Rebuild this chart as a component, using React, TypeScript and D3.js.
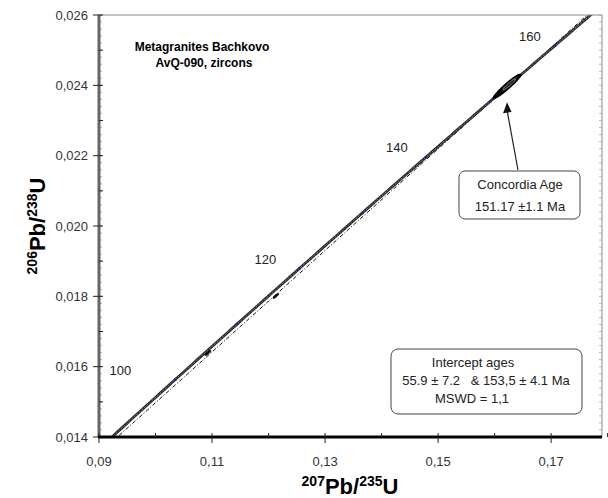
import React, { useEffect, useRef } from 'react';
import * as d3 from 'd3';

// decay constants (1/yr)
const LAMBDA_238 = 1.55125e-10;
const LAMBDA_235 = 9.8485e-10;

// ages (Ma) marked on the concordia, and those that get a label
const ageMarks = [100, 110, 120, 130, 140, 150, 160];
const ageLabels = [100, 120, 140, 160];
const interceptAges = [55.9, 153.5];
const concordiaAge = 151.17;

// zircon analyses: 207Pb/235U, 206Pb/238U, 2s errors, correlation
const ellX = [0.10929, 0.1213, 0.162, 0.1626, 0.1622];
const ellY = [0.01639, 0.01801, 0.02395, 0.02403, 0.02397];
const ellSX = [0.0005, 0.0005, 0.0013, 0.0018, 0.0024];
const ellSY = [0.00007, 0.00007, 0.00019, 0.00026, 0.00034];
const ellRho = [0.85, 0.85, 0.9, 0.95, 0.96];

const xTicks = [0.09, 0.11, 0.13, 0.15, 0.17];
const yTicks = [0.014, 0.016, 0.018, 0.02, 0.022, 0.024, 0.026];

const W = 608;
const H = 498;
const plot = { left: 99, right: 602, top: 15, bottom: 437 };
const FONT = '"Liberation Sans", Arial, sans-serif';
// label nudges (px) left of each labelled age mark
const labelShift: Record<number, number> = { 100: -55, 120: -34, 140: -29, 160: -25 };

const concordia = (ma: number): [number, number] => [
  Math.exp(LAMBDA_235 * ma * 1e6) - 1,
  Math.exp(LAMBDA_238 * ma * 1e6) - 1,
];

const ellipsePts = (cx: number, cy: number, sx: number, sy: number, rho: number) =>
  d3.range(0, 361, 6).map(a => {
    const t = (a * Math.PI) / 180;
    const u = Math.cos(t);
    const v = Math.sin(t);
    return [cx + sx * u, cy + sy * (rho * u + Math.sqrt(1 - rho * rho) * v)] as [number, number];
  });

export default function App() {
  const ref = useRef<SVGSVGElement>(null);

  useEffect(() => {
    const svg = d3.select(ref.current);
    svg.selectAll('*').remove();

    const x = d3.scaleLinear().domain([0.09, 0.179]).range([plot.left, plot.right]);
    const y = d3.scaleLinear().domain([0.014, 0.026]).range([plot.bottom, plot.top]);
    const comma = (f: string) => (d: number) => d3.format(f)(d).replace('.', ',');

    svg.append('rect').attr('width', W).attr('height', H).attr('fill', '#fff');

    svg.append('clipPath').attr('id', 'plotclip')
      .append('rect')
      .attr('x', plot.left).attr('y', plot.top)
      .attr('width', plot.right - plot.left).attr('height', plot.bottom - plot.top);

    const g = svg.append('g').attr('clip-path', 'url(#plotclip)');
    const line = d3.line<[number, number]>().x(d => x(d[0])).y(d => y(d[1]));

    // discordia through the two intercepts
    const lo = concordia(interceptAges[0]);
    const hi = concordia(interceptAges[1]);
    const slope = (hi[1] - lo[1]) / (hi[0] - lo[0]);
    const discY = (xv: number) => lo[1] + slope * (xv - lo[0]);
    g.append('path')
      .attr('d', line([[0.09, discY(0.09)], [0.179, discY(0.179)]]))
      .attr('fill', 'none')
      .attr('stroke', '#111')
      .attr('stroke-width', 1)
      .attr('stroke-dasharray', '4,2,1,2');

    // concordia curve
    const curve = d3.range(80, 180, 0.5).map(concordia);
    g.append('path')
      .attr('d', line(curve))
      .attr('fill', 'none')
      .attr('stroke', '#2a2a2a')
      .attr('stroke-width', 2.8);
    g.append('path')
      .attr('d', line(curve))
      .attr('fill', 'none')
      .attr('stroke', '#9a9a9a')
      .attr('stroke-width', 0.8)
      .attr('stroke-dasharray', '2,1.5');

    // age marks
    g.selectAll('.mark')
      .data(ageMarks)
      .enter()
      .append('circle')
      .attr('cx', d => x(concordia(d)[0]))
      .attr('cy', d => y(concordia(d)[1]))
      .attr('r', 1.5)
      .attr('fill', '#1a2a9a');

    // analyses
    ellX.forEach((cx, i) => {
      const pts = ellipsePts(cx, ellY[i], ellSX[i], ellSY[i], ellRho[i]);
      g.append('path')
        .attr('d', line(pts) + 'Z')
        .attr('fill', i >= 2 ? '#1a1a1a' : '#111')
        .attr('fill-opacity', i >= 2 ? 0.55 : 1)
        .attr('stroke', '#000')
        .attr('stroke-width', i >= 2 ? 1.6 : 1);
    });
    g.append('path')
      .attr('d', line(ellipsePts(ellX[3], ellY[3], ellSX[3] * 0.6, ellSY[3] * 0.6, 0.95)) + 'Z')
      .attr('fill', 'none')
      .attr('stroke', '#bbb')
      .attr('stroke-width', 0.7);

    // concordia age ellipse
    const ca = concordia(concordiaAge);
    g.append('path')
      .attr('d', line(ellipsePts(ca[0], ca[1], 0.0008, 0.00011, 0.9)) + 'Z')
      .attr('fill', '#000');

    // age labels
    svg.selectAll('.agelabel')
      .data(ageLabels)
      .enter()
      .append('text')
      .attr('x', d => x(concordia(d)[0]) + labelShift[d])
      .attr('y', d => y(concordia(d)[1]) - 5)
      .attr('text-anchor', 'middle')
      .style('font-family', FONT)
      .style('font-size', '13px')
      .attr('fill', '#222')
      .text(d => d);

    // frame
    svg.append('line')
      .attr('x1', plot.left).attr('x2', plot.right).attr('y1', plot.top).attr('y2', plot.top)
      .attr('stroke', '#888').attr('stroke-width', 1);
    svg.append('line')
      .attr('x1', plot.right).attr('x2', plot.right).attr('y1', plot.top).attr('y2', plot.bottom)
      .attr('stroke', '#888').attr('stroke-width', 1);

    // fine ticks along y axis and right frame
    const fine = d3.range(0.014, 0.02601, 0.0002);
    svg.selectAll('.fine')
      .data(fine)
      .enter()
      .append('line')
      .attr('x1', plot.left + 1).attr('x2', plot.left + 3)
      .attr('y1', d => y(d)).attr('y2', d => y(d))
      .attr('stroke', '#999').attr('stroke-width', 0.8);
    svg.selectAll('.fineR')
      .data(fine)
      .enter()
      .append('line')
      .attr('x1', plot.right - 3).attr('x2', plot.right)
      .attr('y1', d => y(d)).attr('y2', d => y(d))
      .attr('stroke', '#aaa').attr('stroke-width', 0.8);

    // y axis
    svg.append('line')
      .attr('x1', plot.left).attr('x2', plot.left).attr('y1', plot.top).attr('y2', plot.bottom)
      .attr('stroke', '#666').attr('stroke-width', 3);
    svg.selectAll('.ymaj')
      .data(yTicks)
      .enter()
      .append('line')
      .attr('x1', plot.left - 6).attr('x2', plot.left + 4)
      .attr('y1', d => y(d)).attr('y2', d => y(d))
      .attr('stroke', '#222').attr('stroke-width', 1);
    svg.selectAll('.ymin')
      .data(yTicks.slice(0, -1).map(d => d + 0.001))
      .enter()
      .append('line')
      .attr('x1', plot.left).attr('x2', plot.left + 4)
      .attr('y1', d => y(d)).attr('y2', d => y(d))
      .attr('stroke', '#222').attr('stroke-width', 1);
    svg.selectAll('.ylab')
      .data(yTicks)
      .enter()
      .append('text')
      .attr('x', plot.left - 11)
      .attr('y', d => y(d))
      .attr('dy', '0.35em')
      .attr('text-anchor', 'end')
      .style('font-family', FONT)
      .style('font-size', '13px')
      .attr('fill', '#333')
      .text(comma('.3f'));

    // x axis
    svg.append('line')
      .attr('x1', plot.left - 1).attr('x2', plot.right).attr('y1', plot.bottom).attr('y2', plot.bottom)
      .attr('stroke', '#000').attr('stroke-width', 3);
    svg.selectAll('.xmaj')
      .data(xTicks)
      .enter()
      .append('line')
      .attr('x1', d => x(d)).attr('x2', d => x(d))
      .attr('y1', plot.bottom - 4).attr('y2', plot.bottom + 6)
      .attr('stroke', '#222').attr('stroke-width', 1);
    svg.selectAll('.xmin')
      .data(xTicks.map(d => d + 0.01))
      .enter()
      .append('line')
      .attr('x1', d => x(d)).attr('x2', d => x(d))
      .attr('y1', plot.bottom - 4).attr('y2', plot.bottom)
      .attr('stroke', '#222').attr('stroke-width', 1);
    svg.selectAll('.xlab')
      .data(xTicks)
      .enter()
      .append('text')
      .attr('x', d => x(d))
      .attr('y', plot.bottom + 29)
      .attr('text-anchor', 'middle')
      .style('font-family', FONT)
      .style('font-size', '13px')
      .attr('fill', '#333')
      .text(comma('.2f'));

    // axis titles
    const title = (sel: any, a: string, b: string) => {
      sel.append('tspan').attr('font-size', 14).attr('dy', -8).text(a);
      sel.append('tspan').attr('font-size', 22).attr('dy', 8).text('Pb/');
      sel.append('tspan').attr('font-size', 14).attr('dy', -8).text(b);
      sel.append('tspan').attr('font-size', 22).attr('dy', 8).text('U');
    };
    const xt = svg.append('text')
      .attr('x', 350).attr('y', 494)
      .attr('text-anchor', 'middle')
      .style('font-family', FONT)
      .style('font-weight', 'bold')
      .attr('fill', '#000');
    title(xt, '207', '235');
    const yt = svg.append('text')
      .attr('transform', 'translate(45,226) rotate(-90)')
      .attr('text-anchor', 'middle')
      .style('font-family', FONT)
      .style('font-weight', 'bold')
      .attr('fill', '#000');
    title(yt, '206', '238');

    // sample title
    svg.append('text')
      .attr('x', 202).attr('y', 51)
      .attr('text-anchor', 'middle')
      .style('font-family', FONT).style('font-size', '12px').style('font-weight', 'bold')
      .text('Metagranites Bachkovo');
    svg.append('text')
      .attr('x', 204).attr('y', 67)
      .attr('text-anchor', 'middle')
      .style('font-family', FONT).style('font-size', '12px').style('font-weight', 'bold')
      .text('AvQ-090, zircons');

    // concordia age box + arrow
    svg.append('rect')
      .attr('x', 459).attr('y', 171).attr('width', 121).attr('height', 48).attr('rx', 6)
      .attr('fill', '#fff').attr('stroke', '#444').attr('stroke-width', 1);
    svg.append('line')
      .attr('x1', 518).attr('y1', 170)
      .attr('x2', x(0.1622)).attr('y2', y(0.02352) + 8)
      .attr('stroke', '#222').attr('stroke-width', 1.2);
    const tip = [x(0.1622), y(0.02352)];
    svg.append('path')
      .attr('d', `M${tip[0]},${tip[1]} l-4,11 l8.5,-1.3 Z`)
      .attr('fill', '#111');
    [['Concordia Age', 189], ['151.17 ±1.1 Ma', 211]].forEach(([t, yy]) => {
      svg.append('text')
        .attr('x', 520).attr('y', yy as number)
        .attr('text-anchor', 'middle')
        .style('font-family', FONT).style('font-size', '13px')
        .attr('fill', '#222')
        .text(t as string);
    });

    // intercept box
    svg.append('rect')
      .attr('x', 391).attr('y', 349).attr('width', 191).attr('height', 65).attr('rx', 7)
      .attr('fill', '#fff').attr('stroke', '#444').attr('stroke-width', 1);
    [['Intercept ages', 473, 367], ['55.9 ± 7.2   & 153,5 ± 4.1 Ma', 486, 385], ['MSWD = 1,1', 472, 403]].forEach(([t, xx, yy]) => {
      svg.append('text')
        .attr('x', xx as number).attr('y', yy as number)
        .attr('text-anchor', 'middle')
        .style('font-family', FONT).style('font-size', '13px')
        .style('white-space', 'pre')
        .attr('fill', '#222')
        .text(t as string);
    });
  }, []);

  return (
    <svg
      ref={ref}
      width={W}
      height={H}
      style={{ position: 'absolute', left: 0, top: 0, display: 'block' }}
    />
  );
}
